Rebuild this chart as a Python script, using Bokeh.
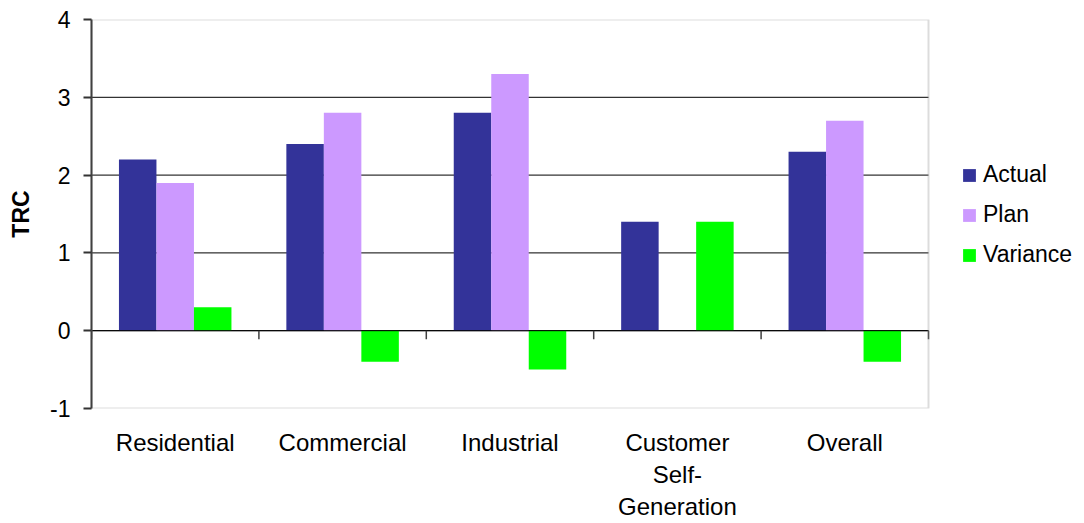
from bokeh.plotting import figure
from bokeh.models import Range1d, FixedTicker, Legend, LegendItem, BoxAnnotation
from bokeh.embed import file_html
from bokeh.resources import INLINE

categories = ["Residential", "Commercial", "Industrial", "Customer\nSelf-\nGeneration", "Overall"]
actual = [2.2, 2.4, 2.8, 1.4, 2.3]
plan = [1.9, 2.8, 3.3, 0.0, 2.7]
variance = [0.3, -0.4, -0.5, 1.4, -0.4]
series_names = ["Actual", "Plan", "Variance"]
colors = ["#333399", "#CC99FF", "#00FF00"]
y_ticks = [-1, 0, 1, 2, 3, 4]
grid_levels = [0, 1, 2, 3]

FONT = "Liberation Sans"
n = len(categories)
centers = [i + 0.5 for i in range(n)]
bw = 0.224
y_min, y_max = y_ticks[0], y_ticks[-1]

# frame spans to the right edge so the legend (drawn inside the frame) is not clipped;
# the visible plot area is x in [0, n]
W, H = 1084, 523
left_px, plot_right_px = 91, 928
x_end = n * (W - left_px) / (plot_right_px - left_px)

p = figure(width=W, height=H, x_range=Range1d(0, x_end), y_range=Range1d(y_min, y_max),
           output_backend="svg", toolbar_location=None,
           min_border_left=left_px, min_border_right=0, min_border_top=19, min_border_bottom=100)
p.background_fill_color = "white"
p.border_fill_color = "white"
p.outline_line_color = None
p.xgrid.visible = False
p.ygrid.visible = False

# horizontal gridlines (only across the plot area)
p.segment(x0=[0] * len(grid_levels), y0=grid_levels, x1=[n] * len(grid_levels), y1=grid_levels,
          line_color="black", line_width=1)

renderers = []
for k, (vals, col) in enumerate(zip([actual, plan, variance], colors)):
    xs = [c + (k - 1) * bw for c in centers]
    r = p.vbar(x=xs, top=vals, bottom=0, width=bw, fill_color=col, line_color=None)
    renderers.append(r)

# zero line redrawn over bars
p.segment(x0=[0], y0=[0], x1=[n], y1=[0], line_color="black", line_width=1)

# category boundary ticks on the zero line
bounds = list(range(n + 1))
p.segment(x0=bounds, y0=[0] * len(bounds), x1=bounds, y1=[-0.11] * len(bounds),
          line_color="#404040", line_width=1.5)

# plot area border
p.add_layout(BoxAnnotation(left=0, right=n, bottom=y_min, top=y_max,
                           fill_alpha=0, line_color="#8c8c8c", line_width=2))

# y axis
yax = p.yaxis[0]
yax.ticker = FixedTicker(ticks=y_ticks)
yax.major_label_overrides = {t: str(t) for t in y_ticks}
yax.axis_line_color = "#333333"
yax.axis_line_width = 2
yax.major_tick_out = 8
yax.major_tick_in = 0
yax.major_tick_line_color = "#333333"
yax.major_tick_line_width = 2
yax.minor_tick_line_color = None
yax.major_label_text_font = FONT
yax.major_label_text_font_size = "23px"
yax.major_label_text_color = "black"
yax.major_label_standoff = 13
yax.axis_label = "TRC"
yax.axis_label_text_font = FONT
yax.axis_label_text_font_style = "bold"
yax.axis_label_text_font_size = "23px"
yax.axis_label_text_color = "black"
yax.axis_label_standoff = 13

# x axis (labels only)
xax = p.xaxis[0]
xax.ticker = FixedTicker(ticks=centers)
xax.major_label_overrides = {c: lab for c, lab in zip(centers, categories)}
xax.axis_line_color = None
xax.major_tick_line_color = None
xax.minor_tick_line_color = None
xax.major_label_text_font = FONT
xax.major_label_text_font_size = "24px"
xax.major_label_text_color = "black"
xax.major_label_text_line_height = 1.2
xax.major_label_standoff = 14

legend = Legend(items=[LegendItem(label=nm, renderers=[r]) for nm, r in zip(series_names, renderers)],
                location=(870, 140))
legend.glyph_width = 16
legend.glyph_height = 16
legend.label_height = 24
legend.spacing = 13
legend.padding = 0
legend.margin = 0
legend.label_standoff = 6
legend.border_line_color = None
legend.background_fill_alpha = 0
legend.label_text_font = FONT
legend.label_text_font_size = "23px"
legend.label_text_color = "black"
p.add_layout(legend, "center")

open("out.html", "w").write(file_html(p, INLINE))
